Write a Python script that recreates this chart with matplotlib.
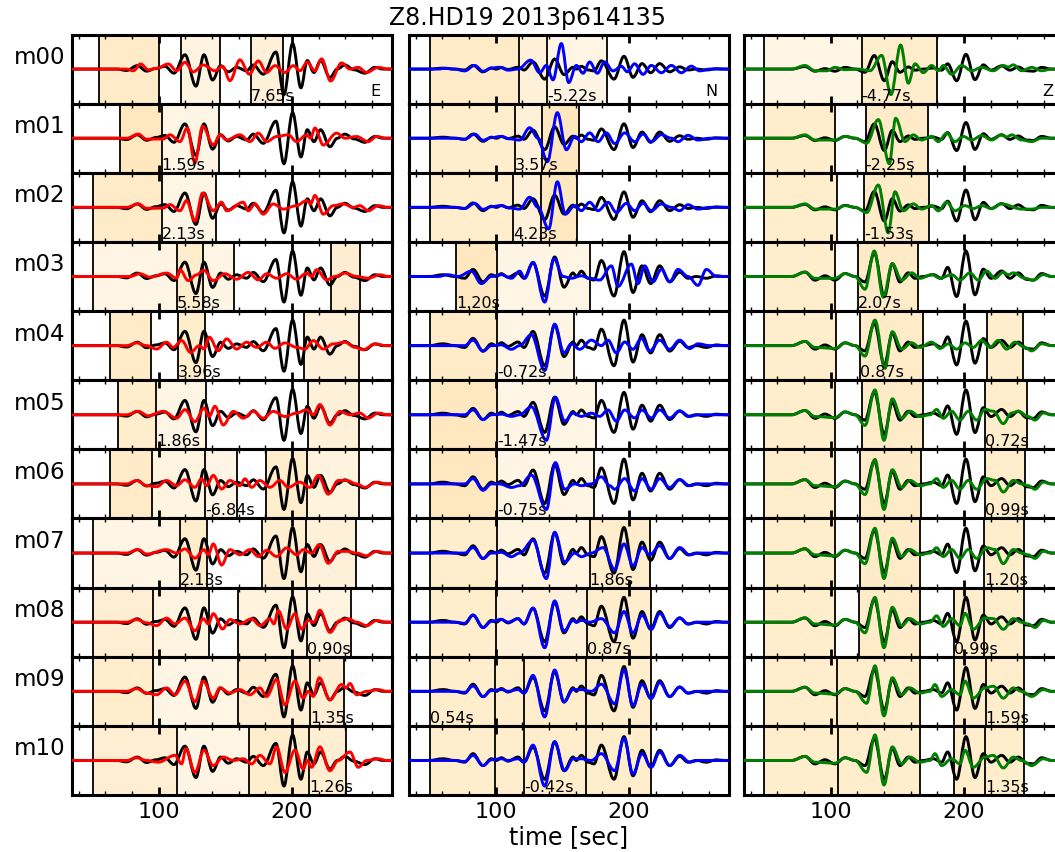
import matplotlib
matplotlib.use('Agg')
import matplotlib.pyplot as plt
from matplotlib.path import Path
from matplotlib.patches import PathPatch
from matplotlib.ticker import MultipleLocator

# station / event
title = 'Z8.HD19 2013p614135'
models = ['m%02d' % i for i in range(11)]
comps = ['E', 'N', 'Z']
syn_colors = ['r', 'b', 'g']

# observed traces (time [s], amplitude), same data in every row
black_e = [(35, 0), (68.5, 0), (76, -0.04), (84, 0.1), (91, -0.06), (98, 0.02), (104.75, 0.08),
           (111.5, -0.12), (119.75, 0.42), (128, -0.5), (134, 0.42), (140.5, -0.32), (146.5, 0.1),
           (152.25, -0.08), (158.5, 0.05), (166, -0.05), (171, 0.12), (178.5, -0.15), (188, 0.5),
           (194, -0.75), (200.5, 0.75), (206.75, -0.55), (211.5, 0.25), (216.5, -0.1), (221.5, 0.25),
           (228.5, -0.25), (234, 0), (239.75, 0.12), (246.5, -0.02), (254.75, -0.12), (262.25, 0.05),
           (268.5, 0), (275, 0)]
black_n = [(35, 0), (50, 0), (60.5, 0.05), (69.25, 0), (76.75, -0.05), (83, 0.2), (90.5, -0.15),
           (96.75, 0.05), (100.5, 0), (104.25, 0.08), (109.25, -0.02), (116.75, 0.1), (121.25, -0.05),
           (128, 0.39), (136.75, -0.55), (144.25, 0.55), (151.25, -0.3), (158, 0.1), (160.5, 0),
           (164.25, 0.15), (169.25, -0.05), (173.75, -0.1), (179.25, 0.45), (188.75, -0.55),
           (196.25, 0.7), (203, -0.45), (209.75, 0.3), (216.25, -0.2), (223, 0.3), (230.5, -0.15),
           (238, 0.12), (244.25, -0.05), (250.5, 0), (258, -0.05), (265.5, 0.02), (271.75, 0), (275, 0)]
black_z = [(35, 0), (55.75, 0), (70.75, 0), (80.75, 0.12), (88.25, -0.1), (95.75, 0.02), (103.25, -0.1),
           (110.75, 0.08), (118.25, 0), (125.75, -0.15), (132.75, 0.64), (140.25, -0.55), (146.25, 0.35),
           (152, -0.15), (158.25, 0.1), (163.25, -0.05), (169.5, 0), (177, 0.05), (183.25, -0.05),
           (187.75, 0.25), (194.5, -0.55), (201.5, 0.7), (208.25, -0.5), (214.5, 0.2), (220.25, -0.05),
           (228.25, 0.15), (234.5, -0.05), (240.75, 0.1), (247, -0.08), (252, -0.1), (258.25, 0.08),
           (265.75, 0), (275, 0)]

# synthetic traces per model
red_e = [
    [(35, 0), (76, 0), (81, -0.05), (86.5, 0.15), (92.25, -0.02), (98.5, 0.02), (107.25, 0.15), (113.5, -0.05),
     (119.75, 0.2), (126, -0.08), (133.5, 0.12), (142.25, -0.05), (148, 0.08), (153.5, -0.34), (161, 0.27),
     (168, -0.15), (174.75, 0.24), (181, -0.1), (187.25, 0.1), (194.75, -0.1), (201, 0.1), (206, -0.05),
     (211.5, 0.2), (217.25, -0.05), (222.25, 0.3), (229, -0.35), (237.25, 0.18), (243.5, 0), (249.75, 0.05),
     (256, -0.1), (264.75, 0.05), (272.25, 0), (275, 0)],
    [(35, 0), (76, 0), (84.75, 0.12), (91, -0.03), (103.5, -0.02), (108.5, 0.1), (116, -0.1), (121.5, 0.3),
     (127.25, -0.72), (133, 0.35), (141, -0.2), (146, 0.1), (151, -0.05), (161, 0.1), (168.5, -0.1),
     (174.75, 0.15), (181, -0.1), (188.5, 0.05), (197.25, 0.1), (203.5, -0.1), (211, 0.1), (214, 0),
     (217.25, 0.3), (223.5, -0.2), (233.5, 0.15), (239.75, 0), (248.5, 0.05), (257.25, -0.1), (263.5, 0.05),
     (271, 0), (275, 0)],
    [(35, 0), (76, 0), (84.75, 0.1), (91, -0.03), (103.5, -0.02), (108.5, 0.08), (116, -0.1), (121, 0.2),
     (127.25, -0.4), (133, 0.42), (141, -0.1), (147.25, 0.15), (151, -0.1), (163.5, 0.15), (167.25, -0.1),
     (172.25, 0.1), (178.5, -0.2), (186, 0.1), (193.5, -0.05), (203.5, 0.05), (211, 0.2), (214, 0.1),
     (217.25, 0.35), (223.5, -0.2), (231, 0.05), (238.5, 0.1), (246, 0), (251, 0.05), (257.25, -0.1),
     (264.75, 0.05), (272.25, 0), (275, 0)],
    [(35, 0), (78.5, 0), (86, 0.08), (93.5, -0.02), (106, 0.1), (113.5, -0.05), (116, 0.2), (122.25, -0.12),
     (128.5, 0.05), (134, 0.18), (141, -0.12), (149.75, 0.08), (158.5, -0.08), (167.25, 0.12), (174.75, -0.1),
     (181, 0.08), (188.5, -0.05), (196, 0.08), (203.5, -0.08), (211, 0.1), (214.75, 0), (218.5, 0.2),
     (226, -0.1), (232.25, 0), (239.75, 0.1), (248.5, 0), (257.25, -0.05), (266, 0.05), (272.25, 0), (275, 0)],
    [(35, 0), (76, 0), (83.5, 0.08), (91, 0), (98.5, -0.1), (106, 0.1), (111, -0.05), (117.25, 0.15),
     (124, -0.2), (130.5, 0), (134, -0.1), (138, 0.25), (144.75, -0.15), (151, 0.2), (158.5, -0.1),
     (166, 0.1), (173.5, -0.05), (181, 0.1), (187.25, -0.08), (194.75, 0.08), (203.5, -0.05), (209.75, -0.1),
     (216, 0.15), (223.5, -0.1), (231, 0.05), (239.75, 0.1), (247.25, -0.05), (253.5, -0.12), (262.25, 0.05),
     (271, 0), (275, 0)],
    [(35, 0), (76, 0), (84.75, 0.1), (92.25, -0.03), (103.5, 0.1), (113.5, -0.1), (119.75, 0.15),
     (127.25, -0.2), (134, 0.2), (138, -0.05), (142.25, 0.25), (148.5, -0.3), (156, 0.1), (163.5, -0.1),
     (171, 0.1), (178.5, -0.1), (186, 0.1), (194.75, -0.05), (203.5, 0.05), (211, 0.15), (216, 0),
     (221, 0.3), (228.5, -0.3), (236, 0.1), (243.5, 0), (251, 0.05), (257.25, -0.1), (264.75, 0.05),
     (272.25, 0), (275, 0)],
    [(35, 0), (76, 0), (83.5, 0.1), (91, -0.05), (98.5, -0.08), (106, 0.1), (113.5, -0.05), (119.75, 0.12),
     (127.25, -0.1), (132.25, 0.15), (136, -0.05), (141, 0.25), (147.25, -0.15), (153.5, 0.1), (161, -0.05),
     (164.75, 0.15), (169.75, -0.1), (176, 0.1), (183.5, -0.1), (191, 0.1), (197.25, -0.1), (206, 0.05),
     (213.5, -0.1), (219.75, 0.25), (227.25, -0.3), (234.75, 0.1), (241, 0.1), (248.5, 0), (254.75, -0.1),
     (263.5, 0.05), (271, 0), (275, 0)],
    [(35, 0), (76, 0), (84.75, 0.1), (91, -0.03), (106, 0.1), (113.5, 0), (119.75, 0.12), (127.25, -0.15),
     (134, 0.1), (137.25, -0.05), (141, 0.27), (147.25, -0.35), (153.5, 0.1), (161, -0.05), (168.5, 0.1),
     (174.75, -0.1), (181, 0.08), (188.5, -0.1), (196, 0.15), (203.5, -0.05), (208.5, 0.1), (214.75, 0),
     (220.5, 0.25), (227.25, -0.3), (234.75, 0.05), (241, 0.05), (248.5, 0), (256, -0.08), (263.5, 0.05),
     (271, 0), (275, 0)],
    [(35, 0), (76, 0), (83.5, 0.08), (91, -0.02), (98.5, -0.1), (106, 0.12), (112.25, -0.05), (119.75, 0.12),
     (127.25, -0.25), (133.5, 0.1), (137.25, -0.05), (141, 0.25), (148, -0.2), (153.5, 0.08), (161, -0.05),
     (169.75, 0.1), (176, -0.1), (183.5, 0.1), (186.5, -0.05), (189.75, 0.34), (196, -0.2), (202.25, 0.25),
     (207.25, -0.2), (212.25, 0.05), (216.5, 0), (221, 0.35), (228.5, -0.3), (236, 0.05), (242.25, 0.1),
     (248.5, 0), (256, -0.1), (263.5, 0.05), (271, 0), (275, 0)],
    [(35, 0), (76, 0), (83.5, 0.08), (91, -0.05), (98.5, -0.1), (106, 0.1), (112.25, -0.1), (119.75, 0.3),
     (127.25, -0.3), (133.5, 0.3), (141, -0.2), (146, 0.1), (153.5, -0.05), (161, 0.05), (168.5, -0.1),
     (176, 0.1), (181, -0.15), (188.5, 0.35), (194.75, -0.4), (202.25, 0.3), (208.5, -0.2), (212.25, 0),
     (216, -0.15), (220.5, 0.4), (228.5, -0.25), (237.25, 0.2), (240.5, 0.1), (243.5, 0.23), (248.5, -0.1),
     (256, 0), (264.75, 0.05), (271, 0), (275, 0)],
    [(35, 0), (76, 0), (83.5, 0.08), (91, 0), (99.75, -0.05), (112.25, 0.15), (117.25, -0.1), (120.5, 0.35),
     (127.25, -0.35), (134, 0.3), (141, -0.15), (148.5, 0.1), (156, 0), (163.5, 0.05), (169.75, -0.1),
     (176, 0.15), (183.5, -0.1), (188.5, 0.4), (194.75, -0.35), (202.25, 0.3), (208.5, -0.25), (211.5, 0),
     (214.75, -0.2), (221, 0.4), (228.5, -0.3), (234.75, 0), (243.5, 0.25), (249.75, -0.2), (256, 0),
     (264.75, 0.05), (271, 0), (275, 0)],
]
blue_n = [
    [(35, 0), (56.75, 0), (61.75, 0.04), (69.25, 0), (76.75, -0.1), (84.25, 0.2), (90.5, -0.12), (96.75, 0.06),
     (103, 0.1), (109.25, -0.06), (116.75, 0), (126.25, 0.49), (133, -0.2), (138, 0.2), (143, -0.59),
     (149.25, 1.4), (154.75, -0.74), (160.5, 0.2), (165.5, -0.23), (170.5, 0.39), (176.25, -0.23),
     (181.75, 0.39), (188, -0.1), (194.25, 0.15), (198.75, -0.15), (204.25, 0.29), (210.5, -0.29),
     (216.75, 0.2), (224.25, -0.2), (231.75, 0.2), (239.25, -0.2), (246.75, 0.16), (253, -0.1), (260.5, 0),
     (275, 0)],
    [(35, 0), (69.25, 0), (76.75, -0.05), (84.25, 0.2), (90.5, -0.1), (96.75, 0.03), (104.25, 0.09),
     (110.5, -0.03), (118, -0.09), (125.5, 0.51), (131.75, 0), (138.75, -1.14), (146.25, 1.24), (153, -0.56),
     (159.25, 0.09), (164.25, -0.17), (170.5, 0.26), (176.75, -0.17), (183, 0.26), (189.25, -0.26),
     (196.75, 0.26), (204.25, -0.17), (210.5, 0.2), (216.75, -0.17), (224.25, 0.17), (231.75, 0),
     (236.75, -0.17), (244.25, 0.14), (251.75, -0.09), (260.5, 0), (275, 0)],
    [(35, 0), (69.25, 0), (76.75, -0.05), (84.25, 0.18), (90.5, -0.09), (96.75, 0.03), (104.25, 0.08),
     (110.5, -0.03), (118, -0.08), (125.5, 0.46), (131.75, 0), (139.75, -0.98), (146.25, 1.16), (152.25, -0.31),
     (159.25, 0.08), (164.25, -0.15), (170.5, 0.23), (176.75, -0.15), (184.25, 0.23), (190.5, -0.23),
     (198, 0.18), (204.25, -0.15), (210.5, 0.18), (216.75, -0.15), (224.25, 0.15), (231.75, 0),
     (238, -0.15), (244.25, 0.12), (251.75, -0.08), (260.5, 0), (275, 0)],
    [(35, 0), (56.75, 0), (64.25, 0.05), (71.75, 0), (81.75, 0.15), (89.25, -0.2), (96.75, 0), (104.25, 0.05),
     (111.75, -0.05), (118, 0.15), (121.75, -0.05), (128, 0.4), (136.75, -0.72), (143.75, 0.5), (150.5, 0),
     (156.75, -0.05), (164.25, 0.02), (170.5, -0.05), (178, -0.1), (186.75, 0.3), (191.75, -0.28),
     (201.75, 0.35), (206.75, -0.2), (211.75, 0.3), (218, -0.15), (224.25, 0.2), (230.5, -0.15),
     (236.75, 0.2), (244.25, 0), (251.75, -0.25), (258, 0.2), (265.5, 0), (275, 0)],
    [(35, 0), (76.75, 0), (83, 0.15), (90.5, -0.15), (96.75, 0), (104.25, 0.02), (111.75, -0.1), (118, 0),
     (126.75, 0.3), (136.75, -0.68), (144.25, 0.59), (151.25, -0.2), (156.75, 0.05), (163, -0.1),
     (171.75, 0.15), (179.25, 0), (184.25, 0.15), (190.5, -0.2), (196.75, 0.1), (203, -0.1), (209.25, 0.2),
     (215.5, -0.15), (223, 0.15), (230.5, -0.1), (238, 0.15), (245.5, -0.08), (251.75, 0.05), (260.5, 0),
     (275, 0)],
    [(35, 0), (76.75, 0), (83, 0.15), (90.5, -0.15), (96.75, 0), (104.25, 0.02), (111.75, -0.05), (118, 0),
     (126.75, 0.25), (138, -0.8), (144.75, 0.55), (151.75, -0.2), (158, 0.05), (164.25, -0.05), (171.75, 0.05),
     (178, -0.05), (184.25, 0.15), (190.5, -0.2), (196.75, 0.15), (204.25, -0.1), (209.75, 0.15),
     (216.75, -0.1), (223, 0.15), (230.5, -0.1), (238, 0.12), (245.5, -0.05), (251.75, 0), (275, 0)],
    [(35, 0), (76.75, 0), (83, 0.15), (90.5, -0.18), (96.75, 0), (103, 0), (111.75, -0.1), (118, -0.05),
     (126.75, 0.25), (138, -0.72), (144.75, 0.6), (151.75, -0.15), (159.25, 0), (164.25, -0.05), (171.75, 0),
     (179.25, 0.2), (185.5, -0.05), (189.25, -0.15), (196.75, 0.15), (204.25, -0.2), (209.75, 0.15),
     (216.75, -0.15), (223, 0.15), (230.5, -0.1), (238, 0.12), (245.5, -0.05), (251.75, 0), (275, 0)],
    [(35, 0), (76.75, 0), (83, 0.15), (90.5, -0.15), (96.75, 0), (104.25, 0.02), (111.75, -0.1), (118, 0),
     (128, 0.35), (138, -0.7), (144.25, 0.57), (151.75, -0.25), (159.25, 0), (164.25, -0.1), (171.75, 0),
     (180.5, 0.15), (189.25, -0.45), (196.25, 0.25), (203, -0.35), (209.75, 0.15), (215.5, -0.05),
     (223, 0.2), (230.5, -0.15), (238, 0.15), (245.5, -0.05), (251.75, 0), (275, 0)],
    [(35, 0), (69.25, 0), (76.75, -0.03), (83, 0.2), (90.5, -0.15), (96.75, 0.02), (104.25, 0.08),
     (109.25, 0), (116.75, 0.1), (121.25, -0.05), (128, 0.4), (136.75, -0.72), (144.25, 0.6), (151.25, -0.25),
     (158, 0.05), (160.5, 0), (164.25, 0.05), (170.5, 0), (179.25, 0.1), (189.25, -0.3), (196.25, 0.3),
     (203, -0.3), (209.75, 0.2), (216.75, -0.2), (223, 0.25), (230.5, -0.12), (238, 0.12), (244.25, -0.05),
     (251.75, 0), (275, 0)],
    [(35, 0), (69.25, 0), (76.75, -0.03), (83, 0.15), (90.5, -0.15), (96.75, 0.02), (104.25, 0.05),
     (109.25, 0), (116.75, 0.05), (121.25, -0.05), (128, 0.45), (136.75, -0.72), (144.25, 0.6), (151.25, -0.3),
     (158, 0.05), (164.25, 0.05), (171.75, 0), (179.25, 0.2), (189.25, -0.35), (196.25, 0.6), (203, -0.4),
     (209.75, 0.2), (216.75, -0.2), (223, 0.25), (230.5, -0.15), (238, 0.12), (244.25, -0.05), (251.75, 0),
     (275, 0)],
    [(35, 0), (69.25, 0), (76.75, -0.03), (83, 0.15), (90.5, -0.15), (96.75, 0.02), (104.25, 0.05),
     (109.25, 0), (116.75, 0.05), (121.25, -0.05), (128, 0.45), (136.75, -0.75), (144.25, 0.55), (151.75, -0.3),
     (158, 0.05), (164.25, 0.05), (171.75, 0), (179.25, 0.2), (189.25, -0.3), (196.25, 0.65), (203, -0.4),
     (209.75, 0.2), (216.75, -0.2), (223, 0.25), (230.5, -0.15), (238, 0.15), (245.5, -0.05), (251.75, 0),
     (275, 0)],
]
green_z = [
    [(35, 0), (55.75, 0), (70.75, 0), (80.75, 0.17), (88.25, -0.08), (97, -0.08), (103.25, 0.08), (110.75, -0.03),
     (120.75, 0), (129.5, -0.08), (138.25, 0.65), (145.25, -1.21), (152.5, 1.14), (158.25, -0.67),
     (163.25, 0.25), (169.5, -0.17), (175.75, 0.17), (180.75, -0.08), (184.5, 0.17), (190.75, -0.25),
     (198.25, 0.17), (205.75, -0.08), (213.25, 0.08), (222, -0.08), (229.5, 0.17), (233.25, 0.1),
     (237, 0.2), (243.25, -0.08), (250.75, 0.08), (258.25, -0.08), (265.75, 0), (275, 0)],
    [(35, 0), (70.75, 0), (80.75, 0.15), (88.25, -0.08), (103.25, -0.08), (110.75, 0.08), (118.25, 0),
     (127, -0.22), (135.75, 0.83), (144, -1.14), (148.75, 0.89), (155.75, -0.15), (162, 0.15), (168.25, -0.08),
     (175.75, 0.08), (180.75, -0.15), (187, 0.22), (193.25, -0.15), (199.5, 0.08), (205.75, -0.08),
     (213.25, 0.12), (220.75, -0.08), (228.25, 0.15), (232, 0.05), (235.75, 0.15), (243.25, -0.08),
     (250.75, -0.15), (258.25, 0), (275, 0)],
    [(35, 0), (70.75, 0), (80.75, 0.14), (88.25, -0.07), (103.25, -0.07), (110.75, 0.07), (118.25, 0),
     (127, -0.21), (135.75, 0.9), (143.25, -1.03), (148.25, 0.63), (154.5, -0.14), (162, 0.14), (168.25, -0.07),
     (175.75, 0.07), (180.75, -0.14), (187, 0.21), (193.25, -0.14), (200.75, 0.07), (207, -0.05),
     (213.25, 0.07), (220.75, -0.05), (228.25, 0.14), (243.25, -0.07), (250.75, -0.07), (258.25, 0), (275, 0)],
    [(35, 0), (70.75, 0), (80.75, 0.12), (88.25, -0.05), (103.25, -0.05), (110.75, 0.08), (118.25, 0),
     (125.75, -0.35), (132.75, 0.7), (139.5, -0.57), (146.25, 0.35), (153.25, -0.1), (160.75, 0.1),
     (167, -0.05), (175.75, 0.05), (182, -0.05), (190.75, 0.05), (197, -0.1), (204.5, 0.1), (210.75, -0.1),
     (217, 0.15), (223.25, -0.05), (229.5, 0.12), (233.25, 0.05), (237, 0.1), (245.75, -0.05), (252, -0.1),
     (259.5, 0.05), (265.75, 0), (275, 0)],
    [(35, 0), (70.75, 0), (80.75, 0.12), (88.25, -0.05), (103.25, -0.08), (110.75, 0.08), (118.25, 0),
     (125.75, -0.3), (133.25, 0.73), (140.75, -0.65), (146.25, 0.4), (153.25, -0.1), (160.75, 0.08),
     (167, -0.05), (175.75, 0.1), (182, -0.08), (188.25, 0.05), (194.5, -0.1), (200.75, 0.08), (207, -0.05),
     (213.25, 0.15), (219.5, -0.05), (225.75, 0.15), (232, -0.1), (238.25, 0.1), (245.75, -0.05),
     (250.75, -0.15), (258.25, 0.05), (265.75, 0), (275, 0)],
    [(35, 0), (70.75, 0), (80.75, 0.12), (88.25, -0.05), (103.25, -0.08), (110.75, 0.08), (118.25, 0),
     (125.75, -0.3), (133.25, 0.7), (140, -0.72), (146.25, 0.45), (153.25, -0.1), (159.5, 0.1), (167, -0.05),
     (174.5, 0), (179.5, 0.15), (184.5, -0.1), (190.75, 0.1), (197, -0.15), (203.25, 0.1), (209.5, -0.15),
     (215.75, 0.15), (222, 0.1), (229.5, -0.25), (235.75, 0.05), (240.75, 0.1), (248.25, -0.05),
     (253.25, -0.15), (259.5, 0.05), (265.75, 0), (275, 0)],
    [(35, 0), (70.75, 0), (80.75, 0.12), (88.25, -0.05), (103.25, -0.08), (110.75, 0.08), (118.25, 0),
     (125.75, -0.3), (133.25, 0.69), (140, -0.72), (146.25, 0.4), (153.25, -0.1), (159.5, 0.1), (167, -0.05),
     (174.5, 0), (179.5, 0.15), (184.5, -0.1), (190.75, 0.1), (197, -0.15), (203.25, 0.1), (209.5, -0.15),
     (217, 0.15), (223.25, 0.1), (229.5, -0.23), (237, 0.1), (243.25, 0), (248.25, -0.05), (253.25, -0.15),
     (259.5, 0.05), (265.75, 0), (275, 0)],
    [(35, 0), (70.75, 0), (80.75, 0.12), (88.25, -0.05), (103.25, -0.08), (110.75, 0.08), (118.25, 0),
     (125.75, -0.3), (133.25, 0.7), (140, -0.72), (146.25, 0.42), (153.25, -0.1), (159.5, 0.1), (167, -0.05),
     (174.5, 0), (179.5, 0.15), (184.5, -0.1), (190.75, 0.1), (197, -0.15), (203.25, 0.1), (209.5, -0.15),
     (217, 0.15), (223.25, 0.1), (229.5, -0.3), (237, 0.1), (243.25, 0), (248.25, -0.05), (253.25, -0.15),
     (259.5, 0.05), (265.75, 0), (275, 0)],
    [(35, 0), (70.75, 0), (80.75, 0.12), (88.25, -0.05), (103.25, -0.08), (110.75, 0.08), (118.25, 0),
     (125.75, -0.3), (133.25, 0.7), (140, -0.72), (146.25, 0.42), (153.25, -0.1), (159.5, 0.1), (167, -0.05),
     (174.5, 0), (179.5, 0.18), (184.5, -0.12), (190.75, 0.1), (197, -0.1), (200.75, 0.25), (207, -0.2),
     (215.75, 0.12), (222, 0.1), (229.5, -0.2), (237, 0.1), (243.25, 0), (248.25, -0.05), (253.25, -0.15),
     (259.5, 0.05), (265.75, 0), (275, 0)],
    [(35, 0), (70.75, 0), (80.75, 0.12), (88.25, -0.05), (103.25, -0.08), (110.75, 0.08), (118.25, 0),
     (127, -0.35), (133.25, 0.75), (140, -0.72), (146.25, 0.4), (153.25, -0.1), (159.5, 0.1), (167, -0.05),
     (174.5, 0), (178.25, 0.2), (183.25, -0.15), (190.75, 0.05), (197, -0.1), (200.75, 0.3), (207, -0.2),
     (215.75, 0.1), (222, 0.15), (229.5, -0.2), (237, 0.1), (243.25, 0), (250.75, -0.15), (259.5, 0.05),
     (265.75, 0), (275, 0)],
    [(35, 0), (70.75, 0), (80.75, 0.12), (88.25, -0.05), (103.25, -0.08), (110.75, 0.08), (118.25, 0),
     (127, -0.35), (133.25, 0.75), (140, -0.72), (146.25, 0.4), (153.25, -0.1), (159.5, 0.1), (167, -0.05),
     (174.5, 0), (178.25, 0.2), (183.25, -0.15), (190.75, 0.05), (197, -0.1), (200.75, 0.3), (207, -0.2),
     (215.75, 0.1), (222, 0.15), (229.5, -0.22), (237, 0.1), (243.25, 0), (250.75, -0.15), (259.5, 0.05),
     (265.75, 0), (275, 0)],
]

# measurement windows per row: (start, end, shade alpha)
win_e = [
    [(55.25, 100.5, 0.22), (117, 146, 0.12), (169, 193.5, 0.15)],
    [(71, 102.25, 0.25), (102.25, 145.25, 0.1)],
    [(50.5, 102.75, 0.22), (102.75, 143.25, 0.1)],
    [(50.5, 113.5, 0.1), (113.5, 133.5, 0.2), (133.5, 156.75, 0.1), (229.25, 251, 0.18)],
    [(63.5, 94.25, 0.22), (114.75, 134.75, 0.2), (209, 250, 0.15)],
    [(69.25, 98, 0.2), (98, 135.5, 0.1), (212, 250.5, 0.15)],
    [(63.75, 95, 0.22), (95, 134.75, 0.12), (134.75, 159, 0.1), (180.5, 211, 0.2), (211, 250.5, 0.13)],
    [(50.5, 116, 0.1), (116, 136, 0.2), (177.25, 210.5, 0.18), (210.5, 248, 0.15)],
    [(50.5, 96, 0.18), (96, 138, 0.12), (159.75, 211, 0.13), (211, 244.25, 0.12)],
    [(50.5, 95.5, 0.2), (95.5, 159.75, 0.1), (159.75, 213.5, 0.18), (213.5, 239.25, 0.18)],
    [(50.5, 113.5, 0.18), (113.5, 168, 0.1), (168, 213, 0.2), (213, 240.5, 0.18)],
]
win_n = [
    [(51, 117.5, 0.22), (117.5, 138.75, 0.15), (138.75, 183.75, 0.1)],
    [(51, 114.25, 0.2), (114.25, 134.75, 0.15), (134.75, 162.25, 0.25)],
    [(51, 113.25, 0.2), (113.25, 133.75, 0.15), (133.75, 161.25, 0.25)],
    [(70.5, 101.25, 0.25), (101.25, 171, 0.1)],
    [(51, 101.25, 0.22), (101.25, 158.75, 0.1)],
    [(51, 101.25, 0.25), (101.25, 175, 0.1)],
    [(51, 101.25, 0.25), (101.25, 173.5, 0.1)],
    [(51, 101.25, 0.2), (101.25, 170.5, 0.12), (170.5, 215.5, 0.2)],
    [(51, 100, 0.2), (100, 168.75, 0.15), (168.75, 216.75, 0.2)],
    [(51, 99.75, 0.2), (99.75, 121.25, 0.2), (121.25, 168, 0.2), (168, 216.75, 0.2)],
    [(51, 99.75, 0.2), (99.75, 121.25, 0.2), (121.25, 168, 0.2), (168, 216.75, 0.2)],
]
win_z = [
    [(50, 123.25, 0.1), (123.25, 179.5, 0.2)],
    [(50, 103.25, 0.2), (126.25, 172.75, 0.22)],
    [(50, 104.5, 0.2), (125.25, 173.75, 0.22)],
    [(50, 103.25, 0.2), (120.25, 165.75, 0.22)],
    [(50, 104, 0.2), (122, 169.5, 0.22), (217, 244.5, 0.2)],
    [(50, 103.25, 0.2), (123.25, 169.5, 0.22), (215.75, 247, 0.2)],
    [(50, 103.25, 0.2), (122, 167.75, 0.22), (215.75, 245.75, 0.2)],
    [(50, 103.25, 0.2), (122, 167, 0.22), (215.25, 245.25, 0.2)],
    [(50, 103.25, 0.2), (121.5, 167, 0.22), (192.75, 215.25, 0.2), (215.25, 245.25, 0.2)],
    [(50, 104.5, 0.2), (104.5, 167, 0.2), (192.75, 216.25, 0.2), (216.25, 245.25, 0.2)],
    [(50, 105.25, 0.2), (105.25, 167, 0.2), (192.75, 215.75, 0.2), (215.75, 245.25, 0.2)],
]

# time shift labels and their positions
shift_e = ['7.65s', '1.59s', '2.13s', '5.58s', '3.96s', '1.86s', '-6.84s', '2.13s', '0.90s', '1.35s', '1.26s']
shift_e_t = [169, 102.25, 102.75, 113.5, 114.75, 98, 134.75, 116, 211, 213.5, 213]
shift_n = ['-5.22s', '3.57s', '4.23s', '1.20s', '-0.72s', '-1.47s', '-0.75s', '1.86s', '0.87s', '0.54s', '-0.42s']
shift_n_t = [138.75, 114.25, 113.25, 70.5, 101.25, 101.25, 101.25, 170.5, 168.75, 51, 121.25]
shift_z = ['-4.77s', '-2.25s', '-1.53s', '2.07s', '0.87s', '0.72s', '0.99s', '1.20s', '0.99s', '1.59s', '1.35s']
shift_z_t = [123.25, 126.25, 125.25, 120.25, 122, 215.75, 215.75, 215.25, 192.75, 216.25, 215.75]

blacks = [black_e, black_n, black_z]
synths = [red_e, blue_n, green_z]
wins = [win_e, win_n, win_z]
shifts = [shift_e, shift_n, shift_z]
shift_ts = [shift_e_t, shift_n_t, shift_z_t]


def trace_path(pts):
    # smooth curve through the picked extrema (flat tangent at each pick)
    verts = [pts[0]]
    codes = [Path.MOVETO]
    for (t0, a0), (t1, a1) in zip(pts[:-1], pts[1:]):
        d = (t1 - t0) * 0.36
        verts += [(t0 + d, a0), (t1 - d, a1), (t1, a1)]
        codes += [Path.CURVE4] * 3
    return Path(verts, codes)


fig = plt.figure(figsize=(10.55, 8.52), dpi=100)
lefts = [0.0682, 0.3877, 0.7052]
width = 0.3033
top = 0.9595
rowh = 0.08115

for c in range(3):
    for i in range(11):
        ax = fig.add_axes([lefts[c], top - (i + 1) * rowh, width, rowh])
        for (t0, t1, al) in wins[c][i]:
            ax.axvspan(t0, t1, color='orange', alpha=al, lw=0, zorder=0)
        edges = sorted(set([w[0] for w in wins[c][i]] + [w[1] for w in wins[c][i]]))
        for e in edges:
            ax.axvline(e, color='k', lw=1.3, zorder=1)
        ax.add_patch(PathPatch(trace_path(blacks[c]), fill=False, ec='k', lw=2.1, zorder=2,
                               capstyle='round', joinstyle='round'))
        ax.add_patch(PathPatch(trace_path(synths[c][i]), fill=False, ec=syn_colors[c], lw=2.1, zorder=3,
                               capstyle='round', joinstyle='round'))
        amax = max(max(abs(p[1]) for p in blacks[c]), max(abs(p[1]) for p in synths[c][i]))
        ax.set_ylim(-amax / 0.74, amax / 0.74)
        ax.set_xlim(35, 275)
        ax.text(shift_ts[c][i], 0.0, shifts[c][i], transform=ax.get_xaxis_transform(),
                ha='left', va='bottom', fontsize=11.5, zorder=5)
        ax.set_yticks([])
        ax.xaxis.set_major_locator(MultipleLocator(100))
        ax.xaxis.set_minor_locator(MultipleLocator(20))
        ax.tick_params(axis='x', which='major', direction='in', top=True, length=6, width=2,
                       labelsize=16, pad=5)
        ax.tick_params(axis='x', which='minor', direction='in', top=True, length=3, width=1)
        if i < 10:
            ax.tick_params(axis='x', labelbottom=False)
        for sp in ax.spines.values():
            sp.set_linewidth(2.2)
        if c == 0:
            ax.text(-0.02, 0.5, models[i], transform=ax.transAxes, ha='right', va='bottom', fontsize=16.5)
        if i == 0:
            ax.text(0.965, 0.06, comps[c], transform=ax.transAxes, ha='right', va='bottom', fontsize=11.5)
        if c == 1 and i == 10:
            ax.set_xlabel('time [sec]', fontsize=17, labelpad=2)

fig.suptitle(title, fontsize=17, y=0.979, va='center')
fig.savefig('out.png', dpi=100)
